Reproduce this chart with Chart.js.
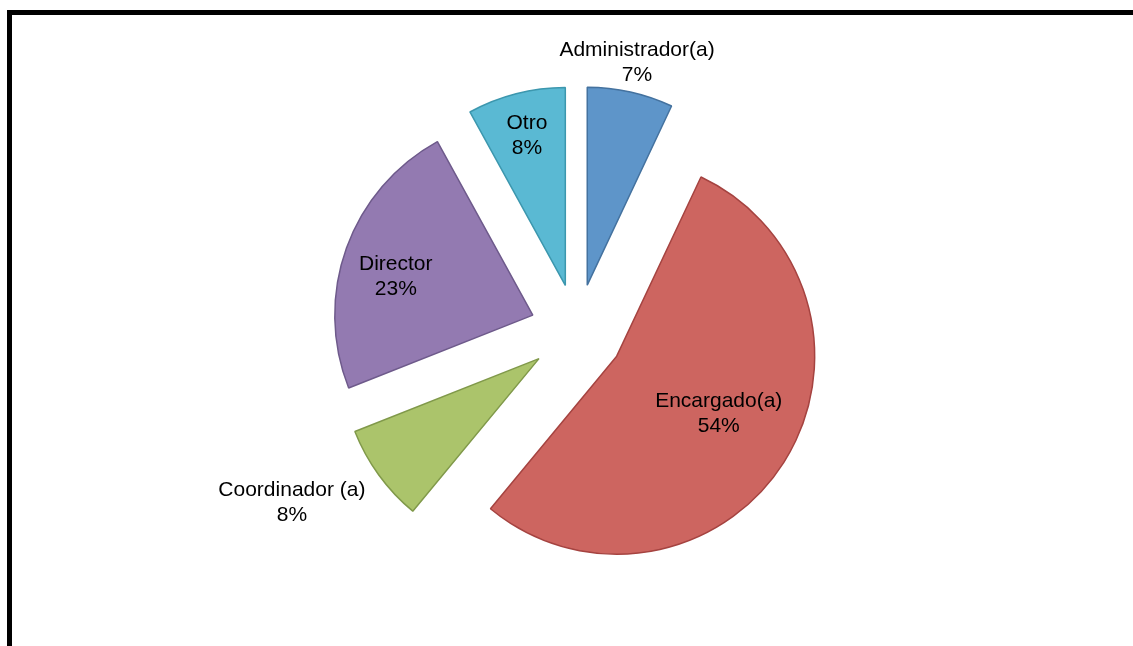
<!DOCTYPE html>
<html lang="es">
<head>
<meta charset="utf-8">
<title>Cargo</title>
<script src="https://cdn.jsdelivr.net/npm/chart.js@4/dist/chart.umd.min.js"></script>
<style>
    html, body { margin: 0; padding: 0; background: #fff; overflow: hidden; }
    #wrap { position: relative; width: 1133px; height: 646px; }
    #frame {
        position: absolute; left: 7px; top: 10px; width: 1200px; height: 700px;
        border-left: 5px solid #000; border-top: 5px solid #000;
    }
    #myChart { position: absolute; left: 0; top: 0; }
</style>
</head>
<body>
<div id="wrap">
    <div id="frame"></div>
    <canvas id="myChart" width="1133" height="646"></canvas>
</div>
<script>
// ── datos ──
const labels = ['Administrador(a)', 'Encargado(a)', 'Coordinador (a)', 'Director', 'Otro'];
const values = [7, 54, 8, 23, 8];

// ── estilo ──
const fills   = ['#5E95C9', '#CD6560', '#ABC46B', '#937AB1', '#5AB9D3'];
const borders = ['#44729F', '#A54340', '#80994A', '#6E5A8B', '#3C97AE'];
const explode = 47;                           // separación de cada porción (px)
const labelDist  = [1.39, 0.83, 1.68, 0.956, 1.017]; // distancia etiqueta / radio
const labelTweak = [0, -2, 5, -3, 0];         // ajuste angular de la etiqueta (grados)

const total = values.reduce((a, b) => a + b, 0);

// pastel "explotado": cada arco se dibuja desplazado hacia fuera según su ángulo medio,
// sin el offset nativo (que además estrecha y agranda la porción)
const explodeArcs = {
    id: 'explodeArcs',
    beforeDatasetDraw(chart, args) {
        const ctx = chart.ctx;
        args.meta.data.forEach(arc => {
            const mid = (arc.startAngle + arc.endAngle) / 2;
            ctx.save();
            ctx.translate(Math.cos(mid) * explode, Math.sin(mid) * explode);
            arc.draw(ctx);
            ctx.restore();
        });
        return false;
    }
};

const pieLabels = {
    id: 'pieLabels',
    afterDatasetsDraw(chart) {
        const ctx = chart.ctx;
        const arcs = chart.getDatasetMeta(0).data;
        ctx.save();
        ctx.font = '21px "Liberation Sans", Arial, sans-serif';
        ctx.fillStyle = '#000';
        ctx.textAlign = 'center';
        ctx.textBaseline = 'middle';
        arcs.forEach((arc, i) => {
            const mid = (arc.startAngle + arc.endAngle) / 2 + labelTweak[i] * Math.PI / 180;
            const r = labelDist[i] * arc.outerRadius;
            const x = arc.x + Math.cos(mid) * r;
            const y = arc.y + Math.sin(mid) * r;
            ctx.fillText(labels[i], x, y - 12.5);
            ctx.fillText(Math.round(values[i] / total * 100) + '%', x, y + 12.5);
        });
        ctx.restore();
    }
};

const chart = new Chart(document.getElementById('myChart').getContext('2d'), {
    type: 'pie',
    data: {
        labels: labels,
        datasets: [{
            data: values,
            backgroundColor: fills,
            borderColor: borders,
            borderWidth: 1.5
        }]
    },
    options: {
        responsive: false,
        animation: false,
        events: [],
        radius: 198,
        layout: { padding: { left: 21, top: 16, right: 0, bottom: 0 } },
        plugins: { legend: { display: false }, tooltip: { enabled: false } }
    },
    plugins: [explodeArcs, pieLabels]
});
</script>
</body>
</html>
